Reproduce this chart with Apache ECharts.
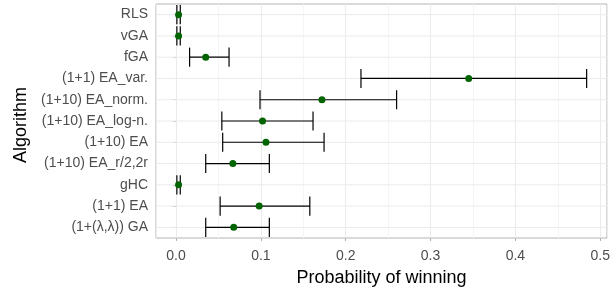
<!DOCTYPE html>
<html>
<head>
<meta charset="utf-8">
<script src="https://cdn.jsdelivr.net/npm/echarts@6/dist/echarts.min.js"></script>
<style>
  html, body { margin: 0; padding: 0; background: #fff; }
  #chart { width: 616px; height: 292px; }
</style>
</head>
<body>
<div id="chart"></div>
<script>
const algorithms = ['RLS', 'vGA', 'fGA', '(1+1) EA_var.', '(1+10) EA_norm.', '(1+10) EA_log-n.',
  '(1+10) EA', '(1+10) EA_r/2,2r', 'gHC', '(1+1) EA', '(1+(λ,λ)) GA']
const winProb = [0.003, 0.003, 0.035, 0.345, 0.172, 0.102, 0.106, 0.067, 0.003, 0.098, 0.068]
const lower = [0.001, 0.001, 0.016, 0.218, 0.099, 0.054, 0.055, 0.035, 0.001, 0.052, 0.035]
const upper = [0.005, 0.005, 0.0625, 0.484, 0.260, 0.1615, 0.1745, 0.110, 0.005, 0.1577, 0.110]

const chart = echarts.init(document.getElementById('chart'))

const errData = algorithms.map((a, i) => [i, lower[i], upper[i]])
const pointData = algorithms.map((a, i) => [winProb[i], i])

chart.setOption({
  animation: false,
  textStyle: { fontFamily: 'Liberation Sans, Arial, sans-serif' },
  grid: {
    left: 156,
    right: 9,
    top: 4,
    bottom: 46,
    show: true,
    borderColor: '#b3b3b3',
    borderWidth: 1
  },
  xAxis: {
    type: 'value',
    min: -0.0236,
    max: 0.508,
    splitNumber: 5,
    name: 'Probability of winning',
    nameLocation: 'middle',
    nameGap: 31,
    nameTextStyle: { fontSize: 18, color: '#000' },
    axisLine: { show: false },
    axisTick: { show: true, length: 3, lineStyle: { color: '#b3b3b3' } },
    axisLabel: {
      fontSize: 14,
      color: '#4d4d4d',
      margin: 11,
      showMinLabel: false,
      formatter(v) {
        return v.toFixed(1)
      }
    },
    splitLine: { lineStyle: { color: '#ebebeb', width: 1 } },
    minorTick: { show: false, splitNumber: 2 },
    minorSplitLine: { show: true, lineStyle: { color: '#f5f5f5', width: 1 } }
  },
  yAxis: {
    type: 'category',
    data: algorithms,
    inverse: true,
    name: 'Algorithm',
    nameLocation: 'middle',
    nameGap: 125,
    nameTextStyle: { fontSize: 18, color: '#000', padding: [0, 8, 0, 0] },
    axisLine: { show: false },
    axisTick: { show: true, alignWithLabel: true, length: 3, lineStyle: { color: '#b3b3b3' } },
    axisLabel: { fontSize: 14, color: '#4d4d4d', margin: 8 },
    splitLine: { show: false }
  },
  series: [
    {
      // horizontal grid lines through each category
      type: 'custom',
      silent: true,
      z: 1,
      data: algorithms.map((a, i) => [i]),
      renderItem(params, api) {
        const y = api.coord([0, api.value(0)])[1]
        const cs = params.coordSys
        return {
          type: 'line',
          shape: { x1: cs.x, y1: y, x2: cs.x + cs.width, y2: y },
          style: { stroke: '#ebebeb', lineWidth: 1 }
        }
      }
    },
    {
      type: 'custom',
      z: 3,
      data: errData,
      renderItem(params, api) {
        const idx = api.value(0)
        const p1 = api.coord([api.value(1), idx])
        const p2 = api.coord([api.value(2), idx])
        const h = api.size([0, 1])[1] * 0.9 / 2
        const style = { stroke: '#000', lineWidth: 1.2 }
        return {
          type: 'group',
          children: [
            { type: 'line', shape: { x1: p1[0], y1: p1[1], x2: p2[0], y2: p2[1] }, style },
            { type: 'line', shape: { x1: p1[0], y1: p1[1] - h, x2: p1[0], y2: p1[1] + h }, style },
            { type: 'line', shape: { x1: p2[0], y1: p2[1] - h, x2: p2[0], y2: p2[1] + h }, style }
          ]
        }
      },
      encode: { x: [1, 2], y: 0 }
    },
    {
      type: 'scatter',
      z: 4,
      data: pointData,
      symbolSize: 7,
      itemStyle: { color: '#006400', opacity: 1 }
    }
  ]
})
</script>
</body>
</html>
